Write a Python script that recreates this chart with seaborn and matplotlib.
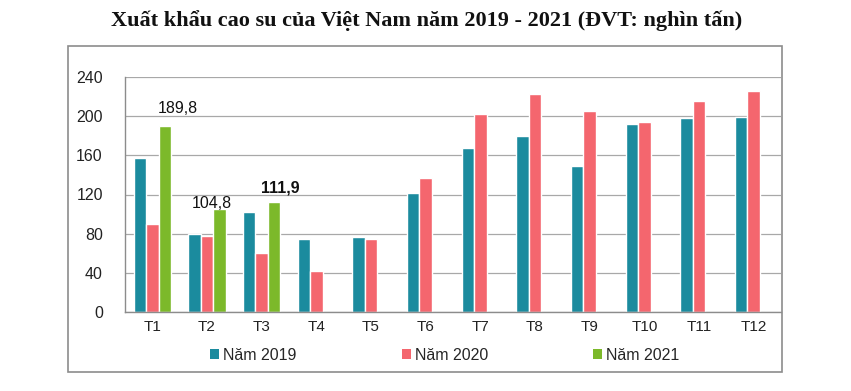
import numpy as np
import pandas as pd
import matplotlib
matplotlib.use('Agg')
import matplotlib.pyplot as plt
import seaborn as sns
from matplotlib.patches import Rectangle, Patch

# data (nghin tan)
months = ['T1', 'T2', 'T3', 'T4', 'T5', 'T6', 'T7', 'T8', 'T9', 'T10', 'T11', 'T12']
years = ['Năm 2019', 'Năm 2020', 'Năm 2021']
v2019 = [157, 80, 102.5, 75, 77, 122, 167, 180, 149.5, 191.5, 198.5, 199]
v2020 = [90, 78, 60, 42, 74.5, 136.5, 202, 223, 205, 194.5, 216, 225.5]
v2021 = [189.8, 104.8, 111.9] + [np.nan] * 9
label_text = ['189,8', '104,8', '111,9']
label_bold = [False, False, True]

colors = ['#1B8B9E', '#F4666E', '#7CB92A']

df = pd.DataFrame({
    'Thang': months * 3,
    'Nam': [y for y in years for _ in months],
    'GiaTri': v2019 + v2020 + v2021,
})

sns.set_style('white')
plt.rcParams['font.family'] = ['Liberation Sans', 'DejaVu Sans']

fig = plt.figure(figsize = (8.51, 3.91), dpi = 100)
W, H = 851, 391
ax = fig.add_axes([125 / W, (H - 312) / H, (781 - 125) / W, (312 - 77) / H])

sns.barplot(data = df, x = 'Thang', y = 'GiaTri', hue = 'Nam', order = months, hue_order = years,
            palette = colors, width = 0.68, errorbar = None, ax = ax, legend = False,
            saturation = 1)

ax.set_ylim(0, 240)
ax.set_yticks(range(0, 241, 40))
ax.set_xlim(-0.5, 11.5)
ax.set_xlabel('')
ax.set_ylabel('')
ax.grid(axis = 'y', color = '#A8A8A8', linewidth = 0.9)
ax.set_axisbelow(True)
for s in ['top', 'right']:
    ax.spines[s].set_visible(False)
for s in ['left', 'bottom']:
    ax.spines[s].set_color('#8C8C8C')
    ax.spines[s].set_linewidth(1)
ax.set_xticks(np.arange(-0.5, 12, 1), minor = True)
ax.tick_params(axis = 'x', which = 'major', length = 0, labelsize = 11, pad = 6, colors = '#222222')
ax.tick_params(axis = 'x', which = 'minor', length = 4, color = '#8C8C8C', direction = 'out')
ax.tick_params(axis = 'y', length = 4, color = '#8C8C8C', labelsize = 11.5, pad = 12, colors = '#222222')
ax.tick_params(axis = 'y', colors = '#8C8C8C', labelcolor = '#222222')
ax.tick_params(axis = 'x', which = 'minor', colors = '#8C8C8C')

# data labels on the 2021 bars
bars21 = [p for p in ax.containers[2]][:3]
offsets = [(13, 18), (-8, 6), (6, 14)]
for bar, txt, bold, (dx, dy) in zip(bars21, label_text, label_bold, offsets):
    ax.annotate(txt, (bar.get_x() + bar.get_width() / 2, bar.get_height()),
                xytext = (dx * 0.72, dy * 0.72), textcoords = 'offset points',
                ha = 'center', va = 'center', fontsize = 11.5,
                fontweight = 'bold' if bold else 'normal', color = '#111111')

# legend below the plot
handles = [Patch(facecolor = c, edgecolor = 'none') for c in colors]
fig.legend(handles, years, loc = 'center', bbox_to_anchor = (445 / W, 1 - 355 / H), ncol = 3,
           frameon = False, fontsize = 11.5, handlelength = 0.55, handleheight = 0.55,
           handletextpad = 0.25, columnspacing = 6.6)

# outer chart border
fig.patches.append(Rectangle((68 / W, 1 - 372 / H), (782 - 68) / W, (372 - 46) / H,
                             transform = fig.transFigure, fill = False,
                             edgecolor = '#8C8C8C', linewidth = 1.2))

fig.text(427 / W, 1 - 21 / H, 'Xuất khẩu cao su của Việt Nam năm 2019 - 2021 (ĐVT: nghìn tấn)',
         ha = 'center', va = 'center', fontsize = 16, fontweight = 'bold',
         family = ['Liberation Serif', 'DejaVu Serif'], color = '#111111')

fig.savefig('out.png', dpi = 100)
